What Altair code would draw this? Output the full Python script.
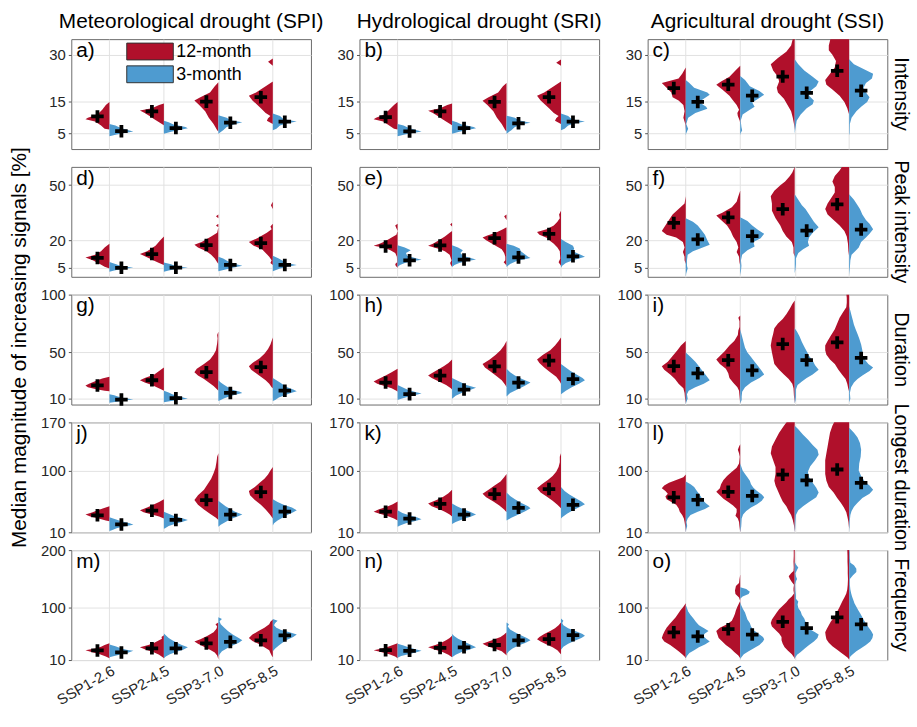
import altair as alt
import pandas as pd

FONT = "Liberation Sans"
RED = "#B0102B"
BLUE = "#4E9BD0"

SCENARIOS = ["SSP1-2.6", "SSP2-4.5", "SSP3-7.0", "SSP5-8.5"]
COL_TITLES = ["Meteorological drought (SPI)", "Hydrological drought (SRI)", "Agricultural drought (SSI)"]
ROW_TITLES = ["Intensity", "Peak intensity", "Duration", "Longest duration", "Frequency"]
Y_DOMAINS = [[0, 35], [0, 60], [5, 100], [10, 170], [10, 200]]
Y_TICKS = [[5, 15, 30], [5, 20, 50], [10, 50, 100], [10, 100, 170], [10, 100, 200]]
LETTERS = ["a", "b", "c", "d", "e", "f", "g", "h", "i", "j", "k", "l", "m", "n", "o"]

# ---- medians (black crosses): 12-month, 3-month for each scenario ----
MED_A = [[10.4, 12.0, 15.1, 16.5], [5.7, 6.7, 8.4, 8.7]]
MED_B = [[10.2, 12.0, 15.0, 16.5], [5.6, 6.7, 8.2, 8.7]]
MED_C = [[19.4, 20.5, 23.1, 24.9], [15.0, 17.0, 17.9, 18.6]]
MED_D = [[10.3, 12.4, 17.3, 18.4], [4.9, 5.0, 6.5, 6.5]]
MED_E = [[16.6, 17.1, 21.1, 23.4], [9.0, 9.4, 10.6, 11.2]]
MED_F = [[29.4, 32.4, 36.9, 39.6], [20.4, 22.2, 25.2, 25.8]]
MED_G = [[21.5, 26.0, 33.0, 37.4], [9.3, 10.5, 15.0, 17.0]]
MED_H = [[24.0, 30.0, 38.0, 43.0], [14.0, 18.0, 24.0, 27.0]]
MED_I = [[38.2, 43.3, 57.3, 58.7], [32.0, 34.5, 43.3, 45.3]]
MED_J = [[34.7, 41.4, 57.0, 68.6], [21.4, 28.0, 35.7, 40.0]]
MED_K = [[40.0, 51.4, 65.7, 72.9], [30.0, 35.7, 45.7, 50.0]]
MED_L = [[61.0, 69.0, 93.9, 101.4], [57.1, 62.9, 85.7, 81.9]]
MED_M = [[26.5, 30.3, 38.6, 44.2], [23.2, 30.3, 41.4, 52.5]]
MED_N = [[27.0, 31.0, 36.0, 46.0], [26.0, 32.0, 44.0, 53.0]]
MED_O = [[57.9, 63.4, 76.1, 83.9], [50.8, 54.1, 65.0, 71.7]]

# ---- violin outlines: [value, relative half-width] ----
A12 = [
    [[15, 0], [14, 0.15], [12.5, 0.3], [11, 0.5], [10, 0.9], [9.5, 1.0], [8.8, 0.6], [7.5, 0.35], [6.5, 0.2], [6.2, 0]],
    [[14.5, 0], [14, 0.2], [13, 0.5], [12.3, 1.0], [11.5, 0.8], [10.5, 0.6], [9.5, 0.4], [8.5, 0.2], [7.6, 0]],
    [[21.3, 0], [20, 0.15], [18, 0.35], [16.5, 0.75], [15.5, 1.0], [14, 0.8], [12, 0.55], [10, 0.4], [8, 0.2], [6, 0.05], [5.6, 0]],
    [[28.8, 0], [27.8, 0.2], [26.5, 0], [21.5, 0], [20, 0.3], [18, 0.7], [17, 1.0], [15.5, 0.85], [13, 0.5], [11.5, 0.3], [10.5, 0.1], [9.8, 0.2], [9, 0.25], [8, 0]],
]
A3 = [
    [[8, 0], [7.5, 0.25], [6.8, 0.45], [6, 0.8], [5.6, 1.0], [5.2, 0.7], [4.6, 0.3], [4.1, 0]],
    [[9, 0], [8.5, 0.2], [7.8, 0.4], [7, 0.9], [6.6, 1.0], [6, 0.6], [5.5, 0.3], [4.9, 0]],
    [[10.8, 0], [10, 0.35], [9.2, 0.5], [8.5, 1.0], [8, 0.7], [7, 0.35], [6, 0.2], [4.9, 0]],
    [[11.3, 0], [10.5, 0.3], [9.5, 0.45], [8.8, 1.0], [8.2, 0.6], [7.5, 0.3], [6.5, 0.15], [6, 0]],
]
B12 = [
    [[15, 0], [14, 0.15], [12.5, 0.35], [11, 0.55], [10, 0.9], [9.5, 1.0], [8.8, 0.6], [7.5, 0.35], [6.5, 0.15], [6.2, 0]],
    [[14.5, 0], [14, 0.2], [13, 0.5], [12.2, 1.0], [11.5, 0.8], [10.5, 0.6], [9.5, 0.4], [8.5, 0.2], [7.6, 0]],
    [[21, 0], [20, 0.15], [18, 0.35], [16.5, 0.75], [15.4, 1.0], [14, 0.8], [12, 0.55], [10, 0.4], [8, 0.2], [6, 0.05], [5.6, 0]],
    [[28.5, 0], [27.5, 0.2], [26.5, 0], [21.5, 0], [20, 0.3], [18, 0.7], [17, 1.0], [15.5, 0.85], [13, 0.5], [11.5, 0.3], [10.5, 0.1], [9.8, 0.2], [9, 0.25], [8, 0]],
]
B3 = [
    [[8, 0], [7.5, 0.25], [6.8, 0.45], [6, 0.8], [5.6, 1.0], [5.2, 0.7], [4.6, 0.3], [4.1, 0]],
    [[9, 0], [8.5, 0.2], [7.8, 0.4], [7, 0.9], [6.6, 1.0], [6, 0.6], [5.5, 0.3], [4.9, 0]],
    [[10.6, 0], [10, 0.35], [9.2, 0.5], [8.4, 1.0], [8, 0.7], [7, 0.35], [6, 0.2], [4.9, 0]],
    [[11.3, 0], [10.5, 0.3], [9.5, 0.45], [8.8, 1.0], [8.2, 0.6], [7.5, 0.3], [6.5, 0.15], [6, 0]],
]
C12 = [
    [[26, 0], [24, 0.15], [22.5, 0.3], [21, 1.0], [19.5, 0.8], [18, 0.6], [16.5, 0.55], [15.5, 0.3], [14, 0.1], [12, 0.05], [10, 0.1], [8, 0.02], [6, 0]],
    [[26.5, 0], [25, 0.2], [23, 0.45], [21.5, 0.8], [20.5, 1.0], [19, 0.75], [17, 0.45], [15.5, 0.3], [14, 0.15], [12.5, 0.05], [11.5, 0.12], [10.5, 0.1], [9, 0.02], [8, 0]],
    [[36, 0.05], [33, 0.15], [31, 0.35], [29, 0.7], [27, 1.0], [25, 0.9], [23, 0.7], [21.5, 0.65], [19.5, 0.75], [18, 0.7], [16, 0.45], [14, 0.3], [12, 0.15], [10, 0.08], [8, 0.03], [6, 0]],
    [[36, 0.75], [33, 0.85], [31.5, 0.85], [30, 0.7], [28, 0.55], [26, 0.6], [24, 0.8], [22, 1.0], [20.5, 0.95], [19, 0.7], [17, 0.4], [15, 0.2], [13, 0.08], [11, 0]],
]
C3 = [
    [[22, 0], [21, 0.15], [19.5, 0.35], [18, 0.9], [17.3, 1.0], [16, 0.75], [15, 0.55], [13.5, 0.85], [12.8, 0.9], [11.5, 0.4], [10, 0.1], [8, 0.02], [6.5, 0.1], [5, 0.02], [4.4, 0]],
    [[23.3, 0], [22, 0.2], [20, 0.4], [18.5, 0.8], [17.3, 1.0], [16, 0.75], [14.8, 0.5], [13.5, 0.6], [12.5, 0.4], [11, 0.1], [9, 0.02], [7, 0.05], [6, 0.08], [5, 0.02], [4.4, 0]],
    [[28.6, 0], [27, 0.15], [25, 0.4], [23, 0.75], [21.5, 1.0], [20, 0.9], [18.5, 0.65], [17, 0.6], [15.5, 0.8], [14.3, 0.75], [13, 0.5], [11, 0.25], [9, 0.08], [6, 0.02], [4.9, 0]],
    [[28.6, 0], [27, 0.2], [25.5, 0.6], [24, 1.0], [22.5, 0.95], [21, 0.7], [19.5, 0.6], [18, 0.7], [16.5, 0.85], [15, 0.75], [13.5, 0.5], [12, 0.3], [10, 0.1], [8, 0.03], [5, 0.02], [4.4, 0]],
]
D12 = [
    [[18, 0], [16, 0.2], [14, 0.35], [12, 0.6], [10.5, 1.0], [9, 0.7], [7, 0.4], [5.5, 0.2], [4.5, 0]],
    [[22, 0], [20, 0.15], [17, 0.35], [14, 0.7], [12.5, 1.0], [11, 0.75], [9, 0.45], [7.5, 0.2], [6.5, 0]],
    [[34, 0], [33, 0.1], [32, 0], [29, 0], [28, 0.1], [27, 0], [24, 0.05], [22, 0.3], [19, 0.7], [17.5, 1.0], [16, 0.85], [14, 0.5], [12, 0.3], [10, 0.15], [8, 0.05], [7, 0]],
    [[41, 0], [39, 0.08], [37, 0], [29, 0], [27.5, 0.1], [26, 0.05], [24, 0.25], [21, 0.65], [19, 1.0], [17, 0.8], [15, 0.45], [13, 0.3], [11, 0.15], [9, 0.05], [7.5, 0.1], [6.5, 0]],
]
D3 = [
    [[8.1, 0], [7, 0.25], [6, 0.45], [5, 1.0], [4.3, 0.5], [3.5, 0.2], [2.7, 0]],
    [[7.8, 0], [6.8, 0.3], [5.8, 0.5], [5, 1.0], [4.3, 0.5], [3.5, 0.2], [2.8, 0]],
    [[11, 0], [10, 0.2], [8.5, 0.4], [7, 0.7], [6, 1.0], [5, 0.6], [4, 0.3], [3, 0]],
    [[11.5, 0], [10, 0.25], [8.5, 0.45], [7.5, 0.55], [6.5, 1.0], [5.5, 0.6], [4.5, 0.3], [3, 0]],
]
E12 = [
    [[29, 0], [28, 0.1], [26.5, 0.05], [25, 0], [23, 0.05], [21.5, 0.25], [19.5, 0.5], [18, 0.75], [17, 1.0], [15.8, 0.55], [14.5, 0.3], [13, 0.1], [11, 0.03], [8, 0.02], [7, 0.1], [6, 0.08], [5, 0]],
    [[29.5, 0], [28.5, 0.08], [27.5, 0], [25, 0], [24, 0.1], [22, 0.3], [20, 0.55], [18, 0.8], [17, 1.0], [15.5, 0.6], [14, 0.3], [12, 0.1], [9, 0.02], [7.5, 0.08], [6.5, 0.05], [5.5, 0]],
    [[34, 0], [33, 0.1], [31, 0], [27, 0], [26, 0.15], [24, 0.45], [22.5, 0.8], [21.5, 1.0], [20, 0.85], [18, 0.6], [16.5, 0.4], [15, 0.2], [13, 0.1], [11, 0.05], [9, 0.05], [8, 0.12], [7, 0.05], [6, 0]],
    [[36, 0], [34, 0.08], [32, 0.05], [30, 0.15], [28, 0.3], [26, 0.6], [24.5, 1.0], [23, 0.9], [21, 0.55], [19.5, 0.45], [18, 0.3], [16, 0.15], [14, 0.05], [10, 0.03], [8, 0.1], [7, 0.05], [6, 0]],
]
E3 = [
    [[17.2, 0], [16, 0.3], [14.5, 0.55], [13, 0.35], [11.5, 0.4], [10, 0.8], [9.3, 1.0], [8.5, 0.6], [7.5, 0.3], [6.5, 0.1], [5.4, 0]],
    [[17.2, 0], [16, 0.25], [14.5, 0.45], [13, 0.35], [11.5, 0.45], [10, 0.85], [9.4, 1.0], [8.5, 0.6], [7.5, 0.3], [6.5, 0.1], [5.4, 0]],
    [[18, 0], [17, 0.3], [15.5, 0.55], [14, 0.6], [12.5, 0.75], [11, 0.9], [10.3, 1.0], [9.5, 0.7], [8.5, 0.4], [7, 0.15], [5.4, 0]],
    [[20.7, 0], [19, 0.2], [17, 0.5], [15.5, 0.55], [14, 0.5], [12.5, 0.75], [11, 1.0], [10, 0.75], [9, 0.5], [7.5, 0.2], [6, 0.05], [5, 0]],
]
F12 = [
    [[44, 0], [40, 0.05], [37, 0.3], [34, 0.55], [30, 0.75], [27, 0.9], [25, 1.0], [23, 0.8], [21.5, 0.4], [19, 0.12], [16, 0.05], [13.5, 0.12], [11, 0.05], [9, 0.05], [7, 0]],
    [[47, 0], [44, 0.08], [41, 0.15], [38, 0.35], [35, 0.75], [33.5, 1.0], [31, 0.8], [28, 0.55], [25, 0.4], [22, 0.3], [19, 0.15], [16, 0.08], [13.5, 0.15], [11, 0.05], [8, 0.03], [6, 0]],
    [[60, 0], [57, 0.1], [55, 0.2], [52, 0.4], [50, 0.6], [47, 0.85], [44, 1.0], [40, 0.95], [36, 0.95], [32, 0.8], [28, 0.6], [25, 0.5], [22, 0.35], [19, 0.12], [16, 0.05], [13, 0.05], [11, 0]],
    [[61, 0.25], [58, 0.4], [55, 0.6], [52, 0.7], [49, 0.6], [46, 0.6], [43, 0.75], [40, 0.9], [37, 1.0], [34, 0.9], [31, 0.65], [28, 0.4], [25, 0.2], [22, 0.1], [18, 0.05], [14, 0.03], [11, 0]],
]
F3 = [
    [[32, 0], [30, 0.3], [28, 0.5], [25.5, 0.65], [23, 0.8], [20, 0.9], [17.5, 1.0], [15.5, 0.6], [14, 0.3], [12, 0.08], [9, 0.05], [6, 0.05], [4.5, 0.08], [2, 0.02], [0, 0]],
    [[32.5, 0], [30.5, 0.3], [28, 0.5], [25.5, 0.75], [23.5, 1.0], [21, 0.85], [19, 0.55], [16.5, 0.6], [14.5, 0.3], [12, 0.08], [9, 0.03], [6, 0.05], [3, 0.03], [1, 0]],
    [[45, 0], [42, 0.15], [39, 0.3], [37, 0.45], [33, 0.65], [30, 0.8], [27, 1.0], [24, 0.75], [21.5, 0.6], [19, 0.55], [17, 0.6], [15, 0.35], [13, 0.15], [10, 0.05], [7, 0.05], [4, 0.03], [2, 0]],
    [[45, 0], [42, 0.2], [39, 0.35], [37, 0.45], [34, 0.55], [31, 0.7], [29, 0.85], [26, 1.0], [23.5, 0.85], [21.5, 0.7], [19, 0.5], [16, 0.4], [14, 0.25], [12, 0.1], [9, 0.05], [5, 0.03], [1, 0]],
]
G12 = [
    [[29, 0], [27.5, 0.3], [25.5, 0.55], [23.5, 0.8], [21.5, 1.0], [20, 0.9], [18.5, 0.6], [17, 0.2], [16.5, 0]],
    [[37, 0], [34, 0.2], [31, 0.4], [28, 0.8], [26, 1.0], [24, 0.8], [22, 0.5], [20, 0.3], [18, 0.1], [17, 0]],
    [[68, 0], [65, 0.05], [62, 0.03], [58, 0.05], [52, 0.1], [48, 0.2], [44, 0.35], [40, 0.6], [36, 0.9], [33, 1.0], [30, 0.85], [27, 0.6], [24, 0.4], [21, 0.2], [18, 0.05], [17, 0]],
    [[63, 0], [60, 0.05], [57, 0.1], [53, 0.2], [49, 0.35], [45, 0.55], [41, 0.85], [38, 1.0], [35, 0.9], [32, 0.7], [29, 0.5], [26, 0.3], [23, 0.15], [20, 0.05], [19, 0]],
]
G3 = [
    [[14, 0], [13, 0.2], [12, 0.35], [11, 0.5], [10, 0.8], [9.3, 1.0], [8.5, 0.6], [7.5, 0.3], [6.5, 0]],
    [[17, 0], [15.5, 0.2], [14, 0.35], [12.5, 0.55], [11, 0.8], [10, 1.0], [9, 0.6], [8, 0.3], [7, 0]],
    [[26, 0], [24, 0.1], [22, 0.25], [20, 0.4], [18, 0.55], [16, 0.9], [15, 1.0], [13.5, 0.7], [12, 0.45], [10.5, 0.25], [9, 0.1], [8, 0]],
    [[28, 0], [26, 0.15], [24, 0.3], [22, 0.45], [20, 0.6], [18, 0.85], [16.5, 1.0], [15, 0.75], [13, 0.5], [11, 0.25], [9, 0.1], [8, 0]],
]
H12 = [
    [[36, 0], [33, 0.25], [30, 0.5], [27, 0.8], [25, 1.0], [23, 0.85], [21, 0.55], [19, 0.25], [17, 0.05], [16, 0]],
    [[44, 0], [41, 0.15], [38, 0.35], [35, 0.6], [32, 0.85], [30, 1.0], [28, 0.85], [25, 0.55], [22, 0.25], [19, 0.05], [18, 0]],
    [[60, 0], [56, 0.1], [52, 0.25], [48, 0.45], [44, 0.7], [40, 1.0], [37, 0.9], [34, 0.7], [30, 0.45], [26, 0.2], [22, 0.05], [20, 0]],
    [[63, 0], [60, 0.1], [56, 0.25], [52, 0.45], [48, 0.75], [44, 1.0], [41, 0.9], [37, 0.7], [33, 0.45], [29, 0.2], [25, 0.05], [23, 0]],
]
H3 = [
    [[22, 0], [20, 0.2], [18, 0.4], [16, 0.7], [14.5, 1.0], [13, 0.7], [11.5, 0.4], [10, 0.15], [9, 0]],
    [[28, 0], [25, 0.3], [22, 0.6], [19.5, 1.0], [17.5, 0.75], [15, 0.4], [12.5, 0.15], [10, 0]],
    [[36, 0], [33, 0.15], [30, 0.35], [27, 0.65], [24, 1.0], [21, 0.75], [18, 0.45], [15, 0.15], [12, 0]],
    [[40, 0], [37, 0.2], [34, 0.4], [31, 0.65], [28, 0.9], [26, 1.0], [23, 0.75], [20, 0.45], [17, 0.2], [14, 0]],
]
I12 = [
    [[60, 0], [56, 0.2], [52, 0.35], [47, 0.55], [42, 0.75], [38, 1.0], [35, 0.9], [31, 0.65], [27, 0.45], [23, 0.3], [19, 0.1], [15, 0.05], [10, 0.03], [6, 0]],
    [[82, 0], [80, 0.08], [77, 0.03], [72, 0.03], [69, 0.08], [65, 0.1], [60, 0.25], [56, 0.45], [51, 0.65], [47, 0.85], [44, 1.0], [40, 0.85], [36, 0.6], [32, 0.5], [28, 0.45], [24, 0.3], [20, 0.12], [17, 0.05], [10, 0.02], [6, 0]],
    [[95, 0], [92, 0.1], [88, 0.2], [83, 0.35], [79, 0.5], [75, 0.7], [71, 0.85], [66, 0.9], [62, 0.95], [56, 1.0], [50, 0.95], [45, 0.9], [40, 0.85], [35, 0.65], [31, 0.45], [27, 0.25], [23, 0.1], [19, 0.05], [12, 0.03], [6, 0]],
    [[101, 0.12], [97, 0.1], [93, 0.1], [89, 0.12], [85, 0.25], [80, 0.4], [75, 0.5], [70, 0.6], [65, 0.75], [60, 0.9], [56, 1.0], [52, 1.0], [48, 0.95], [44, 0.8], [40, 0.6], [35, 0.45], [31, 0.3], [27, 0.15], [23, 0.08], [19, 0.04], [16, 0]],
]
I3 = [
    [[50, 0], [46, 0.2], [42, 0.4], [38, 0.55], [34, 0.7], [30, 0.85], [26, 1.0], [23, 0.75], [20, 0.4], [17, 0.12], [14, 0.05], [10, 0.08], [7, 0.02], [5, 0]],
    [[70, 0], [66, 0.05], [62, 0.1], [58, 0.15], [54, 0.2], [50, 0.3], [46, 0.45], [42, 0.6], [38, 0.75], [34, 0.9], [31, 1.0], [28, 0.8], [24, 0.45], [20, 0.2], [16, 0.08], [12, 0.06], [9, 0.06], [6, 0]],
    [[71, 0], [68, 0.1], [64, 0.2], [59, 0.3], [55, 0.4], [51, 0.5], [47, 0.6], [43, 0.75], [39, 0.85], [35, 1.0], [31, 0.75], [28, 0.5], [25, 0.3], [22, 0.12], [18, 0.05], [12, 0.05], [9, 0.04], [6, 0]],
    [[90, 0], [86, 0.05], [82, 0.1], [78, 0.15], [74, 0.2], [70, 0.27], [66, 0.35], [62, 0.42], [57, 0.5], [52, 0.55], [48, 0.55], [44, 0.65], [40, 0.8], [37, 1.0], [34, 0.85], [30, 0.55], [27, 0.35], [24, 0.2], [20, 0.08], [15, 0.03], [10, 0.05], [7, 0]],
]
J12 = [
    [[48, 0], [45, 0.25], [42, 0.5], [39, 0.7], [36, 1.0], [33, 0.8], [30, 0.45], [27, 0.15], [26, 0]],
    [[58, 0], [54, 0.2], [50, 0.45], [46, 0.7], [42, 1.0], [39, 0.85], [36, 0.5], [33, 0.2], [30, 0]],
    [[125, 0], [120, 0.05], [112, 0.08], [104, 0.12], [96, 0.2], [88, 0.3], [80, 0.45], [72, 0.6], [64, 0.85], [57, 1.0], [50, 0.85], [43, 0.6], [37, 0.35], [31, 0.1], [28, 0]],
    [[105, 0], [100, 0.1], [94, 0.2], [88, 0.35], [82, 0.55], [76, 0.75], [70, 1.0], [64, 0.95], [57, 0.75], [50, 0.5], [43, 0.3], [36, 0.12], [30, 0]],
]
J3 = [
    [[32, 0], [29, 0.25], [26, 0.5], [23, 0.85], [21, 1.0], [18.5, 0.6], [16, 0.3], [13, 0.1], [12, 0]],
    [[40, 0], [37, 0.2], [34, 0.4], [31, 0.7], [28, 1.0], [25, 0.75], [22, 0.45], [19, 0.2], [16, 0.05], [15, 0]],
    [[56, 0], [52, 0.15], [48, 0.3], [44, 0.5], [40, 0.7], [36, 1.0], [33, 0.8], [29, 0.5], [25, 0.3], [21, 0.1], [18, 0]],
    [[58, 0], [54, 0.2], [50, 0.45], [46, 0.8], [42, 1.0], [39, 0.85], [35, 0.6], [31, 0.4], [27, 0.2], [23, 0.05], [20, 0]],
]
K12 = [
    [[55, 0], [51, 0.2], [47, 0.45], [43, 0.8], [40, 1.0], [37, 0.75], [34, 0.45], [30, 0.15], [27, 0]],
    [[72, 0], [67, 0.15], [62, 0.35], [57, 0.65], [52, 1.0], [48, 0.85], [44, 0.55], [40, 0.3], [36, 0.1], [33, 0]],
    [[95, 0], [90, 0.1], [84, 0.25], [78, 0.5], [72, 0.75], [66, 1.0], [61, 0.85], [55, 0.55], [49, 0.3], [43, 0.1], [39, 0]],
    [[125, 0], [120, 0.05], [112, 0.05], [105, 0.1], [98, 0.2], [92, 0.35], [86, 0.55], [80, 0.8], [74, 1.0], [68, 0.85], [62, 0.6], [56, 0.35], [50, 0.15], [45, 0]],
]
K3 = [
    [[42, 0], [38, 0.2], [35, 0.45], [32, 0.8], [29, 1.0], [26, 0.7], [23, 0.35], [20, 0.1], [18, 0]],
    [[52, 0], [48, 0.2], [44, 0.45], [40, 0.75], [36, 1.0], [33, 0.8], [29, 0.45], [25, 0.15], [22, 0]],
    [[68, 0], [63, 0.15], [58, 0.35], [53, 0.6], [48, 0.9], [45, 1.0], [41, 0.8], [36, 0.5], [31, 0.2], [27, 0]],
    [[76, 0], [70, 0.15], [65, 0.35], [60, 0.6], [55, 0.85], [51, 1.0], [47, 0.8], [42, 0.5], [37, 0.25], [32, 0.05], [30, 0]],
]
L12 = [
    [[94, 0], [90, 0.1], [86, 0.4], [82, 0.7], [78, 0.9], [74, 1.0], [70, 0.85], [66, 0.75], [62, 0.85], [58, 0.8], [54, 0.6], [50, 0.4], [45, 0.3], [40, 0.25], [35, 0.15], [30, 0.08], [25, 0.05], [18, 0.02], [10, 0]],
    [[138, 0], [135, 0.05], [130, 0.1], [125, 0.05], [120, 0.02], [110, 0.05], [104, 0.15], [98, 0.35], [92, 0.55], [86, 0.7], [80, 0.8], [74, 0.85], [69, 1.0], [64, 0.85], [59, 0.7], [54, 0.5], [49, 0.3], [44, 0.15], [39, 0.15], [34, 0.2], [30, 0.1], [25, 0.05], [18, 0.03], [10, 0]],
    [[172, 0.3], [165, 0.45], [155, 0.65], [145, 0.8], [135, 0.95], [125, 1.0], [115, 0.9], [105, 0.8], [95, 0.8], [85, 0.85], [78, 0.8], [70, 0.7], [62, 0.6], [55, 0.5], [48, 0.35], [41, 0.25], [35, 0.15], [28, 0.08], [20, 0.03], [10, 0]],
    [[172, 0.6], [165, 0.7], [155, 0.8], [145, 0.85], [135, 0.9], [125, 0.95], [115, 1.0], [105, 1.0], [95, 1.0], [85, 0.95], [76, 0.85], [68, 0.65], [60, 0.5], [53, 0.35], [46, 0.22], [39, 0.12], [32, 0.07], [25, 0.03], [18, 0.01], [15, 0]],
]
L3 = [
    [[84, 0], [80, 0.2], [76, 0.35], [71, 0.45], [66, 0.55], [61, 0.65], [57, 0.7], [52, 0.85], [48, 1.0], [44, 0.8], [40, 0.5], [35, 0.2], [30, 0.08], [25, 0.03], [19, 0.06], [14, 0.02], [10, 0]],
    [[110, 0], [105, 0.05], [100, 0.1], [95, 0.2], [90, 0.3], [85, 0.4], [80, 0.45], [75, 0.55], [70, 0.7], [65, 0.9], [61, 1.0], [56, 0.9], [51, 0.7], [46, 0.45], [41, 0.25], [36, 0.12], [30, 0.06], [24, 0.05], [18, 0.04], [10, 0]],
    [[165, 0], [160, 0.15], [152, 0.35], [145, 0.55], [137, 0.75], [130, 0.95], [123, 1.0], [115, 0.85], [106, 0.65], [98, 0.55], [90, 0.6], [82, 0.75], [75, 0.9], [68, 1.0], [61, 0.9], [54, 0.6], [48, 0.35], [42, 0.15], [35, 0.05], [25, 0.03], [15, 0.02], [10, 0]],
    [[162, 0], [155, 0.2], [148, 0.35], [140, 0.45], [130, 0.5], [120, 0.48], [110, 0.42], [100, 0.4], [92, 0.5], [84, 0.65], [78, 0.85], [72, 1.0], [66, 0.85], [60, 0.55], [53, 0.35], [47, 0.2], [41, 0.1], [35, 0.05], [28, 0.03], [20, 0.02], [10, 0]],
]
M12 = [
    [[39, 0], [36, 0.2], [33, 0.35], [30, 0.6], [27, 1.0], [24, 0.75], [20, 0.4], [16, 0.15], [13, 0]],
    [[53, 0], [50, 0.1], [47, 0.08], [44, 0.2], [40, 0.4], [36, 0.65], [32, 1.0], [28, 0.75], [24, 0.45], [19, 0.2], [15, 0.05], [13, 0]],
    [[75, 0], [72, 0.12], [68, 0.05], [64, 0.08], [58, 0.2], [52, 0.45], [46, 0.75], [42, 1.0], [38, 0.85], [33, 0.6], [28, 0.35], [23, 0.15], [18, 0.05], [14, 0.02], [12, 0]],
    [[80, 0], [76, 0.1], [72, 0.15], [66, 0.35], [60, 0.6], [54, 0.85], [48, 1.0], [43, 0.85], [38, 0.6], [32, 0.35], [27, 0.15], [22, 0.1], [18, 0.05], [15, 0]],
]
M3 = [
    [[37, 0], [34, 0.25], [31, 0.45], [28, 0.7], [26, 1.0], [23, 0.8], [20, 0.5], [17, 0.2], [15, 0]],
    [[56, 0], [52, 0.1], [48, 0.2], [44, 0.35], [40, 0.55], [36, 0.75], [32, 1.0], [28, 0.8], [24, 0.5], [20, 0.25], [16, 0.08], [13, 0]],
    [[84, 0], [81, 0.15], [77, 0.05], [72, 0.1], [66, 0.25], [60, 0.4], [54, 0.6], [48, 0.85], [44, 1.0], [40, 0.85], [35, 0.6], [30, 0.35], [25, 0.15], [20, 0.05], [16, 0]],
    [[81, 0], [78, 0.2], [74, 0.1], [70, 0.05], [66, 0.15], [62, 0.35], [58, 0.7], [54, 1.0], [50, 0.85], [45, 0.6], [40, 0.4], [35, 0.25], [30, 0.1], [25, 0]],
]
N12 = [
    [[39, 0], [36, 0.2], [33, 0.4], [30, 0.65], [27, 1.0], [24, 0.7], [20, 0.35], [16, 0.1], [13, 0]],
    [[52, 0], [48, 0.1], [44, 0.25], [40, 0.45], [36, 0.7], [32, 1.0], [28, 0.7], [24, 0.4], [19, 0.15], [15, 0]],
    [[58, 0], [54, 0.1], [50, 0.25], [46, 0.5], [42, 0.75], [38, 1.0], [34, 0.8], [30, 0.5], [25, 0.2], [20, 0.05], [18, 0]],
    [[75, 0], [70, 0.1], [65, 0.25], [60, 0.45], [55, 0.7], [50, 0.9], [46, 1.0], [42, 0.85], [37, 0.6], [32, 0.35], [27, 0.15], [22, 0.05], [20, 0]],
]
N3 = [
    [[38, 0], [35, 0.25], [32, 0.45], [29, 0.7], [26, 1.0], [23, 0.75], [20, 0.45], [17, 0.15], [14, 0]],
    [[55, 0], [51, 0.1], [47, 0.25], [43, 0.45], [39, 0.65], [35, 0.85], [32, 1.0], [28, 0.7], [24, 0.4], [19, 0.15], [15, 0]],
    [[75, 0], [72, 0.1], [68, 0.05], [63, 0.15], [58, 0.35], [53, 0.6], [48, 0.85], [44, 1.0], [40, 0.8], [35, 0.5], [30, 0.25], [25, 0.1], [20, 0]],
    [[82, 0], [78, 0.1], [74, 0.05], [70, 0.1], [65, 0.3], [60, 0.6], [55, 0.9], [52, 1.0], [48, 0.85], [43, 0.55], [38, 0.3], [33, 0.1], [28, 0]],
]
O12 = [
    [[108, 0], [102, 0.1], [96, 0.22], [90, 0.32], [84, 0.42], [78, 0.55], [72, 0.68], [66, 0.8], [60, 0.88], [54, 0.95], [48, 1.0], [42, 0.9], [36, 0.65], [30, 0.45], [25, 0.3], [20, 0.15], [16, 0.05], [13, 0]],
    [[158, 0], [150, 0.03], [143, 0.05], [138, 0.18], [130, 0.22], [124, 0.2], [118, 0.05], [112, 0], [108, 0.05], [102, 0.12], [96, 0.18], [90, 0.22], [84, 0.28], [78, 0.35], [72, 0.55], [66, 0.85], [60, 1.0], [54, 0.95], [48, 0.9], [42, 0.75], [36, 0.6], [30, 0.4], [24, 0.25], [18, 0.08], [13, 0]],
    [[202, 0.04], [190, 0.04], [180, 0.05], [170, 0.04], [164, 0.05], [160, 0.15], [155, 0.25], [150, 0.2], [145, 0.12], [140, 0.03], [134, 0.05], [130, 0.05], [125, 0.03], [120, 0.12], [115, 0.25], [110, 0.35], [104, 0.5], [98, 0.65], [92, 0.75], [86, 0.85], [80, 0.95], [74, 1.0], [68, 0.95], [62, 0.8], [56, 0.65], [50, 0.55], [44, 0.55], [38, 0.5], [32, 0.42], [26, 0.28], [20, 0.12], [15, 0.03], [12, 0]],
    [[202, 0.08], [190, 0.07], [180, 0.07], [170, 0.06], [160, 0.06], [150, 0.05], [140, 0.06], [132, 0.08], [125, 0.12], [118, 0.2], [112, 0.28], [106, 0.35], [100, 0.42], [94, 0.5], [88, 0.57], [82, 0.67], [76, 0.77], [70, 0.85], [64, 0.93], [58, 1.0], [52, 0.98], [46, 0.95], [40, 0.85], [34, 0.7], [28, 0.5], [23, 0.35], [18, 0.18], [14, 0.06], [11, 0]],
]
O3 = [
    [[105, 0], [100, 0.05], [94, 0.1], [88, 0.2], [82, 0.32], [76, 0.42], [70, 0.55], [64, 0.8], [60, 0.95], [56, 0.8], [52, 0.72], [47, 0.85], [42, 1.0], [37, 0.8], [32, 0.55], [27, 0.35], [22, 0.15], [17, 0.05], [13, 0]],
    [[136, 0], [133, 0.25], [128, 0.4], [124, 0.35], [120, 0.1], [116, 0], [110, 0], [104, 0.05], [98, 0.12], [92, 0.2], [86, 0.25], [80, 0.3], [74, 0.4], [68, 0.45], [62, 0.55], [56, 0.75], [50, 0.95], [46, 1.0], [42, 0.95], [36, 0.8], [30, 0.55], [25, 0.35], [20, 0.15], [15, 0.05], [12, 0]],
    [[180, 0], [175, 0.05], [170, 0.15], [166, 0.1], [160, 0.03], [155, 0.05], [150, 0.1], [146, 0.05], [140, 0.02], [130, 0.03], [122, 0.05], [116, 0.05], [111, 0.15], [106, 0.12], [100, 0.15], [94, 0.25], [88, 0.3], [82, 0.4], [76, 0.45], [70, 0.48], [64, 0.6], [58, 0.85], [54, 1.0], [48, 0.95], [42, 0.8], [36, 0.6], [30, 0.42], [24, 0.25], [19, 0.1], [15, 0.03], [12, 0]],
    [[202, 0.02], [185, 0.03], [178, 0.05], [174, 0.2], [168, 0.3], [162, 0.3], [156, 0.15], [150, 0.03], [140, 0.03], [132, 0.05], [126, 0.08], [120, 0.12], [114, 0.17], [108, 0.22], [102, 0.3], [96, 0.38], [90, 0.47], [84, 0.55], [78, 0.63], [72, 0.72], [66, 0.82], [60, 0.92], [54, 1.0], [48, 0.97], [42, 0.88], [36, 0.7], [30, 0.48], [25, 0.3], [20, 0.15], [16, 0.05], [12, 0]],
]

PANELS = [
    [(A12, A3, MED_A), (B12, B3, MED_B), (C12, C3, MED_C)],
    [(D12, D3, MED_D), (E12, E3, MED_E), (F12, F3, MED_F)],
    [(G12, G3, MED_G), (H12, H3, MED_H), (I12, I3, MED_I)],
    [(J12, J3, MED_J), (K12, K3, MED_K), (L12, L3, MED_L)],
    [(M12, M3, MED_M), (N12, N3, MED_N), (O12, O3, MED_O)],
]

W, H = 242, 111
HALF_W = 0.44      # max half-width of a violin, in category units
MED_OFF = 0.22     # horizontal offset of the median cross
PLUS = "M-1,-0.3H-0.3V-1H0.3V-0.3H1V0.3H0.3V1H-0.3V0.3H-1Z"
LABEL_EXPR = "['SSP1-2.6','SSP2-4.5','SSP3-7.0','SSP5-8.5'][datum.value-1]"


def panel(r, c):
    p12, p3, med = PANELS[r][c]
    recs = []
    for i in range(4):
        for half, prof in (("12-month", p12[i]), ("3-month", p3[i])):
            for v, w in prof:
                if half == "12-month":
                    lo, hi = i + 1 - w * HALF_W, i + 1
                else:
                    lo, hi = i + 1, i + 1 + w * HALF_W
                recs.append({"key": f"{half}-{i}", "half": half, "v": v, "lo": lo, "hi": hi})
    vdf = pd.DataFrame(recs)
    mdf = pd.DataFrame(
        [{"x": i + 1 - MED_OFF, "v": med[0][i]} for i in range(4)]
        + [{"x": i + 1 + MED_OFF, "v": med[1][i]} for i in range(4)]
    )
    xs = alt.Scale(domain=[0.3, 4.7], nice=False, zero=False)
    ys = alt.Scale(domain=Y_DOMAINS[r], nice=False, zero=False)
    bottom = r == 4
    xaxis = alt.Axis(
        values=[1, 2, 3, 4], labelExpr=LABEL_EXPR, title=None, domain=False,
        grid=True, gridColor="#e2e2e2", ticks=False,
        labels=bottom, labelAngle=330, labelAlign="right", labelBaseline="top",
        labelOverlap=False, labelBound=False, labelFlush=False,
        labelFont=FONT, labelFontSize=15, labelColor="#262626", labelPadding=3,
    )
    yaxis = alt.Axis(
        values=Y_TICKS[r], title=None, domain=False, grid=True, gridColor="#e2e2e2",
        ticks=True, tickSize=3, tickColor="#555555", labelOverlap=False,
        labelFont=FONT, labelFontSize=15, labelColor="#262626", labelPadding=3,
    )
    area = alt.Chart(vdf).mark_area(orient="horizontal", clip=True).encode(
        y=alt.Y("v:Q", scale=ys, axis=yaxis),
        x=alt.X("lo:Q", scale=xs, axis=xaxis),
        x2="hi:Q",
        color=alt.Color("half:N", scale=alt.Scale(domain=["12-month", "3-month"], range=[RED, BLUE]), legend=None),
        detail="key:N",
    )
    pts = alt.Chart(mdf).mark_point(shape=PLUS, filled=True, color="black", size=160, opacity=1, strokeWidth=0).encode(
        x=alt.X("x:Q", scale=xs, axis=xaxis),
        y=alt.Y("v:Q", scale=ys, axis=yaxis),
    )
    letter = LETTERS[r * 3 + c] + ")"
    lab = alt.Chart(pd.DataFrame({"t": [letter]})).mark_text(
        align="left", baseline="top", font=FONT, fontSize=21, color="black"
    ).encode(x=alt.value(5), y=alt.value(1), text="t:N")
    layers = [area, pts, lab]
    if r == 0:
        layers.append(alt.Chart(pd.DataFrame({"t": [COL_TITLES[c]]})).mark_text(
            align="center", baseline="middle", font=FONT, fontSize=21, color="black"
        ).encode(x=alt.value(W / 2), y=alt.value(-17), text="t:N"))
    if c == 2:
        layers.append(alt.Chart(pd.DataFrame({"t": [ROW_TITLES[r]]})).mark_text(
            align="center", baseline="middle", font=FONT, fontSize=20, color="black", angle=90
        ).encode(x=alt.value(W + 14), y=alt.value(H / 2), text="t:N"))
    if c == 0 and r == 2:
        layers.append(alt.Chart(pd.DataFrame({"t": ["Median magnitude of increasing signals [%]"]})).mark_text(
            align="center", baseline="middle", font=FONT, fontSize=21, color="black", angle=270
        ).encode(x=alt.value(-52), y=alt.value(H / 2 - 2), text="t:N"))
    if r == 0 and c == 0:
        for j, (name, col) in enumerate((("12-month", RED), ("3-month", BLUE))):
            layers.append(alt.Chart(pd.DataFrame({"t": [name]})).mark_rect(
                color=col, stroke="#333333", strokeWidth=1
            ).encode(x=alt.value(56), x2=alt.value(103), y=alt.value(4 + 23 * j), y2=alt.value(21 + 23 * j)))
            layers.append(alt.Chart(pd.DataFrame({"t": [name]})).mark_text(
                align="left", baseline="middle", font=FONT, fontSize=18, color="black"
            ).encode(x=alt.value(106), y=alt.value(13 + 23 * j), text="t:N"))
    return alt.layer(*layers).properties(width=W, height=H)


charts = [panel(r, c) for r in range(5) for c in range(3)]
chart = alt.concat(*charts, columns=3, spacing=alt.RowColnumber(row=18, column=49), bounds="flush").properties(
    padding={"left": 8, "top": 7, "right": 5, "bottom": 5}
).configure_view(stroke="#6b6b6b", strokeWidth=1)

chart.save("out.html", embed_options={"renderer": "svg", "actions": False})
